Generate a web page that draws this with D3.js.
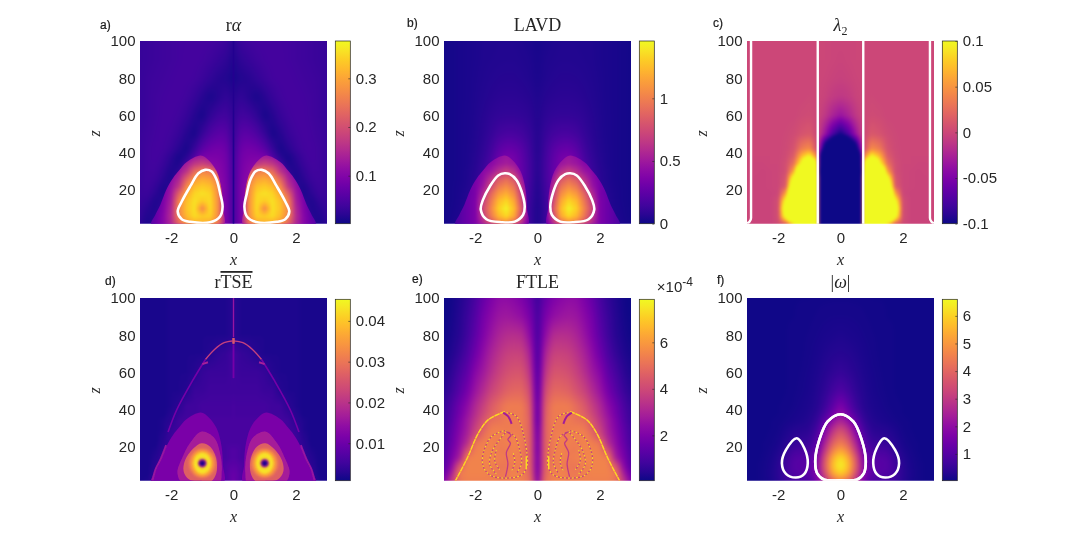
<!DOCTYPE html>
<html>
<head>
<meta charset="utf-8">
<script src="https://cdn.jsdelivr.net/npm/d3@7"></script>
<style>
  body { margin: 0; background: #fff; }
  #wrap { position: relative; width: 1080px; height: 542px; overflow: hidden; }
  canvas, svg { position: absolute; left: 0; top: 0; }
  text { font-family: "Liberation Sans", Arial, sans-serif; fill: #262626; }
  .serif { font-family: "Liberation Serif", serif; }
</style>
</head>
<body>
<div id="wrap"><canvas id="heat" width="1080" height="542"></canvas><svg id="chart" width="1080" height="542"></svg></div>
<script>
// grid of the fields, right half only (the plots are mirrored around x = 0)
const xCols = [0, .06, .25, .5, .75, 1, 1.25, 1.5, 1.75, 2, 2.25, 2.5, 2.75, 3];
const zRows = [100, 90, 80, 70, 60, 50, 42, 38, 34, 30, 26, 22, 18, 14, 10, 6, 2];
const lobeCols = [.25, .5, .75, 1, 1.25, 1.5, 1.75, 2, 2.25, 2.5, 2.75];
const lobeRows = [38, 34, 30, 26, 22, 18, 14, 10, 6, 2];

// r-alpha, in 1e-3
const alphaField = [
  [12, 24, 34, 38, 41, 42, 42, 41, 40, 38, 36, 34, 32, 30],
  [8, 16, 24, 30, 36, 40, 42, 42, 40, 38, 36, 34, 32, 30],
  [5, 10, 14, 18, 26, 34, 40, 42, 42, 40, 38, 36, 34, 30],
  [14, 20, 26, 16, 8, 18, 30, 38, 42, 42, 40, 38, 34, 30],
  [20, 30, 40, 36, 24, 6, 16, 30, 38, 42, 42, 38, 34, 30],
  [20, 40, 62, 62, 50, 30, 6, 16, 30, 38, 42, 40, 36, 32],
  [22, 48, 80, 85, 80, 62, 30, 6, 18, 32, 40, 42, 38, 32],
  [24, 52, 85, 92, 92, 90, 50, 16, 6, 22, 36, 42, 38, 32],
  [24, 55, 88, 100, 105, 110, 80, 40, 8, 16, 32, 40, 38, 32],
  [24, 56, 90, 105, 115, 125, 100, 70, 20, 10, 26, 38, 38, 32],
  [24, 58, 92, 110, 120, 130, 120, 90, 40, 8, 20, 34, 38, 32],
  [24, 60, 95, 112, 125, 135, 125, 100, 60, 20, 10, 28, 36, 32],
  [24, 60, 95, 115, 130, 135, 130, 110, 80, 35, 8, 20, 34, 32],
  [24, 60, 95, 115, 130, 135, 130, 115, 90, 50, 20, 10, 26, 30],
  [24, 60, 95, 115, 130, 135, 130, 120, 95, 65, 35, 10, 18, 28],
  [24, 60, 95, 115, 130, 135, 130, 120, 100, 75, 50, 15, 12, 26],
  [24, 60, 95, 115, 130, 135, 130, 120, 105, 85, 60, 25, 8, 22]
];
const alphaLobe = [
  [90, 100, 125, 135, 125, 100, 80, 60, 40, 30, 20],
  [90, 125, 170, 185, 170, 135, 110, 80, 60, 40, 30],
  [100, 200, 255, 265, 235, 165, 125, 100, 70, 50, 30],
  [110, 255, 295, 305, 285, 225, 145, 110, 80, 50, 30],
  [120, 270, 325, 335, 320, 270, 170, 120, 85, 55, 30],
  [125, 275, 345, 355, 345, 300, 225, 130, 90, 60, 35],
  [125, 280, 350, 335, 355, 325, 265, 140, 95, 60, 35],
  [125, 280, 350, 270, 355, 330, 270, 150, 100, 65, 40],
  [125, 275, 340, 335, 350, 320, 265, 155, 105, 70, 45],
  [120, 250, 300, 310, 305, 285, 230, 150, 105, 75, 50]
];

// LAVD, in 1e-3
const lavdField = [
  [20, 25, 35, 40, 45, 45, 45, 42, 40, 35, 30, 25, 20, 15],
  [25, 30, 40, 45, 50, 50, 48, 45, 42, 35, 30, 25, 20, 15],
  [30, 35, 45, 55, 60, 60, 58, 52, 45, 38, 30, 25, 20, 15],
  [40, 45, 60, 70, 75, 75, 72, 62, 50, 40, 30, 25, 20, 15],
  [45, 55, 80, 95, 100, 100, 95, 80, 60, 42, 32, 25, 20, 15],
  [50, 65, 110, 150, 170, 170, 150, 105, 70, 45, 32, 25, 20, 15],
  [50, 70, 135, 220, 270, 280, 230, 140, 85, 50, 35, 25, 20, 15],
  [50, 75, 145, 240, 320, 340, 280, 160, 95, 55, 35, 25, 20, 15],
  [50, 80, 150, 250, 340, 360, 320, 185, 105, 60, 35, 25, 20, 15],
  [45, 80, 150, 260, 350, 370, 340, 210, 120, 65, 40, 25, 20, 15],
  [40, 75, 150, 260, 350, 370, 350, 240, 135, 70, 40, 25, 20, 15],
  [35, 70, 140, 260, 350, 370, 350, 255, 150, 80, 45, 28, 20, 15],
  [30, 65, 130, 260, 350, 370, 350, 265, 165, 90, 50, 30, 20, 15],
  [30, 60, 120, 260, 350, 370, 350, 270, 175, 100, 55, 32, 20, 15],
  [28, 55, 110, 260, 350, 370, 350, 270, 180, 105, 60, 35, 22, 15],
  [28, 55, 110, 260, 350, 370, 350, 270, 185, 110, 65, 38, 24, 15],
  [28, 55, 110, 260, 350, 370, 350, 270, 190, 115, 70, 45, 28, 18]
];
const lavdLobe = [
  [219, 364, 437, 481, 437, 364, 321, 291, 219, 146, 146],
  [262, 364, 481, 525, 481, 408, 364, 291, 219, 175, 146],
  [291, 408, 612, 700, 612, 481, 408, 321, 262, 175, 146],
  [291, 495, 801, 903, 816, 612, 437, 335, 262, 204, 146],
  [291, 583, 932, 1049, 962, 729, 481, 350, 277, 204, 146],
  [291, 655, 1050, 1195, 1107, 874, 583, 350, 277, 219, 146],
  [291, 729, 1166, 1340, 1238, 962, 670, 364, 291, 219, 146],
  [291, 800, 1240, 1430, 1310, 1020, 730, 364, 291, 219, 146],
  [291, 729, 1166, 1340, 1224, 962, 670, 364, 291, 219, 146],
  [262, 583, 874, 1020, 962, 758, 554, 364, 291, 219, 146]
];

// lambda2, in 1e-3 (saturates outside -100..100)
const lambdaField = [
  [-1, -1, -1, 0, 0, 0, 0, 0, 0, 0, 0, 0, 0, 0],
  [-2, -2, -1, 0, 0, 0, 0, 0, 0, 0, 0, 0, 0, 0],
  [-4, -4, -3, -1, 0, 0, 0, 0, 0, 0, 0, 0, 0, 0],
  [-10, -10, -8, -3, 0, 1, 0, 0, 0, 0, 0, 0, 0, 0],
  [-35, -33, -25, -10, 0, 3, 2, 0, 0, 0, 0, 0, 0, 0],
  [-100, -95, -75, -35, 0, 12, 8, 3, 1, 0, 0, 0, 0, 0],
  [-300, -290, -190, -130, 5, 45, 35, 8, 2, 0, 0, 0, 0, 0],
  [-400, -390, -270, -300, 40, 105, 70, 15, 3, 0, 0, 0, 0, 0],
  [-500, -480, -340, -450, 90, 300, 110, 30, 5, 0, 0, -1, -1, 0],
  [-600, -580, -500, -600, 120, 350, 250, 60, 5, 0, -1, -2, -1, 0],
  [-600, -600, -600, -600, 150, 400, 300, 130, 10, 0, -1, -2, -2, 0],
  [-600, -600, -600, -600, 150, 400, 350, 200, 15, 0, -1, -2, -2, 0],
  [-600, -600, -600, -600, 150, 400, 380, 300, 60, 0, -2, -2, -2, 0],
  [-600, -600, -600, -600, 150, 400, 400, 300, 120, 5, -2, -2, -2, 0],
  [-600, -600, -600, -600, 150, 400, 400, 300, 160, 5, -2, -2, -2, 0],
  [-600, -600, -600, -600, 150, 400, 400, 300, 130, 5, -2, -2, -2, 0],
  [-600, -600, -600, -600, 150, 300, 250, 90, 20, 3, -2, -2, -2, 0]
];

// rTSE background, in 1e-3
const tseField = [
  [3, 2.5, 2, 2, 2, 2, 2, 2, 2, 2, 1.5, 1.5, 1.5, 1.5],
  [3, 2.5, 2, 2, 2, 2, 2, 2, 2, 2, 1.5, 1.5, 1.5, 1.5],
  [3, 2.5, 2, 2, 2, 2, 2, 2, 2, 2, 1.5, 1.5, 1.5, 1.5],
  [5, 5, 4, 3.5, 2.5, 2, 2, 2, 2, 2, 1.5, 1.5, 1.5, 1.5],
  [5, 5, 4.5, 4.5, 4.5, 4, 2.5, 2, 2, 2, 1.5, 1.5, 1.5, 1.5],
  [5, 5, 5, 5, 5, 4.5, 4.5, 2.5, 2, 2, 1.5, 1.5, 1.5, 1.5],
  [6, 5.5, 5.5, 5.5, 5.5, 5.5, 5, 5, 3, 2, 1.5, 1.5, 1.5, 1.5],
  [6, 5.5, 5.5, 5.5, 5.5, 5.5, 5, 5, 4, 2.5, 1.5, 1.5, 1.5, 1.5],
  [6, 6, 6, 6, 6, 6, 5.5, 5.5, 5, 3, 2, 1.5, 1.5, 1.5],
  [6, 6, 6, 6, 6, 6, 5.5, 5.5, 5, 4, 2, 1.5, 1.5, 1.5],
  [6, 6, 6, 6, 6, 6, 6, 6, 5.5, 4.5, 2.5, 1.5, 1.5, 1.5],
  [6, 6, 6, 6, 6, 6, 6, 6, 5.5, 4.5, 3, 1.5, 1.5, 1.5],
  [7, 7, 6, 6, 6, 6, 6, 6, 6, 5, 3.5, 2, 1.5, 1.5],
  [7, 7, 6, 6, 6, 6, 6, 6, 6, 5, 4, 2.5, 1.5, 1.5],
  [8, 8, 7, 6, 6, 6, 6, 6, 6, 5.5, 4.5, 3, 1.5, 1.5],
  [9, 9, 7, 6, 6, 6, 6, 6, 6, 5.5, 4.5, 3.5, 1.5, 1.5],
  [10, 9, 7, 6, 6, 6, 6, 6, 6, 5.5, 5, 4, 2, 1.5]
];

// FTLE background, in 1e-4
const ftleField = [
  [.7, 1, 1.5, 1.95, 2.2, 2.35, 2.3, 1.95, 1.5, .95, .55, .3, .12, .05],
  [.8, 1.2, 1.9, 2.4, 2.6, 2.7, 2.6, 2.25, 1.8, 1.15, .7, .35, .15, .06],
  [.9, 1.3, 2.35, 3.2, 3.3, 3.25, 3, 2.55, 2, 1.35, .8, .4, .2, .08],
  [1, 1.4, 3, 3.8, 3.85, 3.75, 3.4, 2.95, 2.35, 1.7, 1.05, .6, .3, .15],
  [1.1, 1.6, 3.5, 4.3, 4.3, 4.15, 3.8, 3.3, 2.7, 2.2, 1.4, .95, .5, .23],
  [1.2, 1.8, 4.1, 4.8, 4.8, 4.65, 4.25, 3.85, 3.2, 2.6, 1.85, 1.25, .75, .4],
  [1.3, 2, 4.5, 5.3, 5.35, 5.3, 4.9, 4.45, 3.75, 3.1, 2.3, 1.7, 1.05, .6],
  [1.3, 2, 4.6, 5.3, 5.3, 5.3, 5, 4.6, 3.95, 3.25, 2.5, 1.8, 1.15, .65],
  [1.3, 2, 4.7, 5.3, 5.3, 5.3, 5.1, 5, 4.3, 3.5, 2.7, 2, 1.25, .7],
  [1.4, 2.2, 4.7, 5.3, 5.3, 5.3, 5.4, 5.3, 4.6, 3.8, 2.8, 2.1, 1.4, .8],
  [1.5, 2.3, 4.7, 5.3, 5.5, 5.4, 5.4, 5.5, 5, 4.1, 3, 2.25, 1.5, .85],
  [1.5, 2.4, 4.7, 5.3, 5.5, 5.4, 5.3, 5.5, 5.4, 5.2, 3.3, 2.4, 1.6, .9],
  [1.5, 2.4, 4.7, 5.3, 5.5, 5.3, 5.3, 5.5, 5.5, 5.4, 4.3, 2.6, 1.8, 1],
  [1.6, 2.5, 4.7, 5.3, 5.5, 5.3, 5.4, 5.6, 5.5, 5.5, 5.4, 2.9, 2, 1.1],
  [1.6, 2.5, 4.7, 5.4, 5.3, 5.2, 5.2, 5.4, 5.5, 5.5, 5.5, 4.4, 2.3, 1.2],
  [1.6, 2.6, 4.8, 5.4, 5.5, 5.3, 5.2, 5.4, 5.5, 5.5, 5.5, 5.3, 2.9, 1.5],
  [1.7, 2.9, 5, 5.4, 5.5, 5.3, 5.4, 5.4, 5.4, 5.4, 5.4, 5.2, 3.6, 2]
];

// vorticity magnitude
const vortField = [
  [.1, .1, .1, .1, .1, .08, .08, .08, .08, .07, .07, .07, .06, .06],
  [.13, .13, .13, .12, .11, .1, .09, .08, .08, .07, .07, .07, .06, .06],
  [.2, .2, .18, .16, .13, .11, .1, .09, .08, .07, .07, .07, .06, .06],
  [.3, .3, .28, .22, .16, .12, .1, .09, .08, .07, .07, .07, .06, .06],
  [.5, .5, .42, .3, .2, .14, .11, .09, .08, .07, .07, .07, .06, .06],
  [.9, .88, .7, .42, .25, .16, .12, .1, .08, .07, .07, .07, .06, .06],
  [1.6, 1.55, 1.1, .6, .3, .2, .15, .11, .09, .08, .07, .07, .06, .06],
  [2, 1.95, 1.45, .8, .38, .22, .17, .13, .1, .08, .07, .07, .06, .06],
  [2.5, 2.45, 2, 1.2, .5, .28, .2, .16, .12, .09, .08, .07, .06, .06],
  [3.3, 3.25, 2.7, 1.6, .7, .35, .3, .25, .18, .1, .08, .07, .06, .06],
  [3.9, 3.85, 3.3, 2, .9, .45, .4, .35, .22, .12, .09, .07, .06, .06],
  [4.5, 4.4, 3.9, 2.5, 1.1, .6, .55, .5, .3, .15, .1, .08, .06, .06],
  [5.3, 5.2, 4.6, 3, 1.35, .8, .8, .75, .45, .2, .12, .08, .06, .06],
  [6.2, 6.1, 5.4, 3.6, 1.6, 1, 1, .95, .6, .27, .14, .09, .06, .06],
  [6.5, 6.4, 5.7, 3.8, 1.8, 1.1, 1.05, 1, .7, .33, .16, .1, .07, .06],
  [6, 5.9, 5.3, 3.5, 1.8, 1.1, 1, .95, .7, .35, .17, .1, .07, .06],
  [4.6, 4.5, 4, 2.8, 1.5, .9, .8, .75, .6, .33, .16, .1, .07, .06]
];

// outline of the lobe with the sharp edge, right side, as [x, z]
const lobeEdge = [[.32, 1], [.34, 10], [.38, 20], [.54, 30], [.8, 36], [1.05, 38.5], [1.5, 35], [1.77, 30], [2, 25], [2.16, 20], [2.35, 12], [2.5, 7], [2.64, 1]];

// white contours, right side
const alphaContour = [[.91, 30.8], [1.125, 29], [1.39, 21.9], [1.66, 13.8], [1.79, 8.4], [1.66, 4.3], [1.39, 2.9], [.75, 2.7], [.43, 5.8], [.35, 11], [.43, 18.3], [.54, 25.4], [.7, 29.9]];
const lavdContour = [[1.05, 29], [1.26, 27.8], [1.53, 21.9], [1.75, 14.7], [1.82, 9.4], [1.64, 4.3], [1.16, 2.7], [.73, 3], [.46, 6.7], [.41, 11.1], [.51, 19.2], [.675, 25.4], [.89, 28.5]];
const lambdaInner = [[.73, 100], [.73, 1]];
const lambdaOuter = [[2.87, 100], [2.87, 5], [2.92, 3], [3, 2]];
const vortCentre = [[0, 37.6], [.41, 33.7], [.68, 23.8], [.81, 13], [.75, 5.9], [.52, 2.4], [0, 2.1], [-.52, 2.4], [-.75, 5.9], [-.81, 13], [-.68, 23.8], [-.41, 33.7]];
const vortSide = [[1.4, 24.7], [1.75, 18.4], [1.88, 11.3], [1.75, 5.6], [1.43, 3.6], [1.16, 5.6], [1.05, 11.3], [1.16, 19.3]];
const alphaCentre = [[0, 100], [0, 2]];

// stepped bands of rTSE, right side, in 1e-3
const tseBands = [
  { value: 11.5, pts: lobeEdge },
  { value: 16.8, pts: [[.46, 0], [.38, 6], [.41, 15], [.62, 25], [1.02, 28.3], [1.4, 22], [1.65, 14], [1.8, 7], [1.72, 2], [1.55, 0]] },
  { value: 27, pts: [[.72, 1.5], [.55, 6], [.56, 14], [.74, 20], [1.02, 22], [1.3, 19], [1.55, 13], [1.6, 7], [1.42, 2.5], [1, 1.8]] }
];
const tseRings = [
  { value: 31, rx: .44, rz: 8 },
  { value: 36, rx: .36, rz: 7 },
  { value: 43, rx: .28, rz: 5.8 },
  { value: 20, rx: .14, rz: 2.4 },
  { value: 2, rx: .09, rz: 1.5 }
];
const tseRingCentre = [1, 11.3];
const tseRidges = [
  { value: 15, width: 1.2, soft: true, pts: [[0, 100], [0, 90], [0, 79]] },
  { value: 26, width: 2, soft: true, pts: [[0, 78.5], [0, 75.5]] },
  { value: 11, width: 1.5, soft: true, pts: [[0, 75], [0, 66], [0, 57]] },
  { value: 22, width: 1.4, soft: true, pts: [[0, 77], [.3, 76], [.6, 72.5], [.9, 67]] },
  { value: 11, width: 1.6, soft: true, pts: [[.9, 67], [1.3, 56], [1.82, 40], [2.1, 28]] },
  { value: 15, width: 2, soft: true, pts: [[2.16, 21], [2.35, 13], [2.5, 8], [2.6, 2]] },
  { value: 17, width: 2, soft: true, pts: [[.82, 65.5], [1, 64.5]] }
];

// fine structures of FTLE, right side, in 1e-4
const ftleRidges = [
  { value: 7.3, width: 1.3, dash: "5 1", alt: 6, pts: [[1.05, 39], [1.58, 34.6], [1.9, 27.4], [2.23, 14.9], [2.5, 6], [2.63, 2]] },
  { value: 7.2, width: 1.2, dash: "2 2", alt: 3.8, pts: [[1, 38.5], [.67, 36.4], [.46, 27.4], [.34, 16.7], [.34, 9.5], [.51, 5], [1.05, 3.3], [1.53, 5], [1.75, 10], [1.72, 18], [1.45, 26], [1, 29]] },
  { value: 7.3, width: 1.4, soft: true, pts: [[.36, 15], [.36, 8]] },
  { value: 2.8, width: 2, soft: true, pts: [[1.1, 38.5], [.94, 36.4], [.83, 32.4]] },
  { value: 7.2, width: 1.2, dash: "2 2", alt: 3.8, pts: [[1, 28.3], [.73, 25.6], [.57, 18.5], [.51, 11.3], [.67, 6]] },
  { value: 7.2, width: 1.2, dash: "2 2", alt: 3.8, pts: [[1, 28.3], [1.26, 23], [1.48, 16.7], [1.53, 10.4], [1.32, 5.6]] },
  { value: 7.2, width: 1.2, dash: "2 2", alt: 3.8, pts: [[1.32, 18.5], [1.37, 12.2], [1.21, 7.8]] },
  { value: 7.2, width: 1.2, dash: "2 2", alt: 3.8, pts: [[.78, 16.7], [.73, 11.3], [.83, 7.4]] },
  { value: 3.6, width: 1.3, soft: true, pts: [[1, 28.3], [.85, 26.5], [.95, 24], [.87, 22], [1, 17], [.95, 11], [1.03, 4]] }
];

const xTicks = [-2, 0, 2];
const zTicks = [20, 40, 60, 80, 100];
const alphaTicks = [.1, .2, .3];
const lavdTicks = [0, .5, 1];
const lambdaTicks = [-.1, -.05, 0, .05, .1];
const tseTicks = [.01, .02, .03, .04];
const ftleTicks = [2, 4, 6];
const vortTicks = [1, 2, 3, 4, 5, 6];

const panels = [
  { letter: "a)", lx: 100, ly: 29, left: 140, top: 41, cbTop: 41, title: [["r", false], ["α", true]], titleY: 31, blur: 2.6,
    rows: alphaField, unit: 1e-3, lobe: alphaLobe, domain: [.0014, .3766], ticks: alphaTicks, contours: [alphaContour],
    ridges: [{ value: 14, width: 1.4, soft: true, pts: alphaCentre }] },
  { letter: "b)", lx: 407, ly: 27, left: 444, top: 41, cbTop: 41, title: [["LAVD", false]], titleY: 31, blur: 2.6,
    rows: lavdField, unit: 1e-3, lobe: lavdLobe, domain: [0, 1.457], ticks: lavdTicks, contours: [lavdContour] },
  { letter: "c)", lx: 713, ly: 27, left: 747, top: 41, cbTop: 41, title: [["λ", true], ["2", false, true]], titleY: 31, blur: 1.6,
    rows: lambdaField, unit: 1e-3, domain: [-.1, .1], ticks: lambdaTicks, contours: [], open: [lambdaInner, lambdaOuter], openWidth: 2.4 },
  { letter: "d)", lx: 105, ly: 285, left: 140, top: 298, cbTop: 299.3, title: [["r", false], ["TSE", false, false, true]], titleY: 288, blur: 1,
    rows: tseField, unit: 1e-3, domain: [.0008, .0453], ticks: tseTicks, contours: [], bands: tseBands, rings: tseRings, ridges: tseRidges },
  { letter: "e)", lx: 412, ly: 283, left: 444, top: 298, cbTop: 299.3, title: [["FTLE", false]], titleY: 288, blur: 2.2,
    rows: ftleField, unit: 1, domain: [.05, 7.85], ticks: ftleTicks, contours: [], ridges: ftleRidges, power: true },
  { letter: "f)", lx: 717, ly: 284, left: 747, top: 298, cbTop: 299.3, title: [["|", false], ["ω", true], ["|", false]], titleY: 288, blur: 2.4,
    rows: vortField, unit: 1, domain: [.03, 6.6], ticks: vortTicks, contours: [vortCentre, vortSide] }
];

const plotW = 187, plotH = 182.7, cbGap = 8.3, cbW = 15, pad = 8;
const svg = d3.select("#chart");
const ctx = document.getElementById("heat").getContext("2d");

// rows come from the top of the plot, the lookup wants z rising
function sampler(cols, rowZ, rows, unit) {
  const zs = rowZ.slice().reverse();
  const vals = rows.slice().reverse();
  return (x, z) => {
    const ax = Math.abs(x);
    const i = Math.max(1, Math.min(cols.length - 1, d3.bisectLeft(cols, ax)));
    const j = Math.max(1, Math.min(zs.length - 1, d3.bisectLeft(zs, z)));
    const tx = Math.max(0, Math.min(1, (ax - cols[i - 1]) / (cols[i] - cols[i - 1])));
    const tz = Math.max(0, Math.min(1, (z - zs[j - 1]) / (zs[j] - zs[j - 1])));
    const low = vals[j - 1][i - 1] * (1 - tx) + vals[j - 1][i] * tx;
    const high = vals[j][i - 1] * (1 - tx) + vals[j][i] * tx;
    return (low * (1 - tz) + high * tz) * unit;
  };
}

// painted a bit larger than the plot so that the blur has no edge to fade into
function paintField(sample, xScale, zScale, colour, left, top) {
  const off = document.createElement("canvas");
  const w = Math.round(plotW) + 2 * pad, h = Math.round(plotH) + 2 * pad;
  off.width = w;
  off.height = h;
  const octx = off.getContext("2d");
  const img = octx.createImageData(w, h);
  for (let py = 0; py < h; py++) {
    for (let px = 0; px < w; px++) {
      const c = d3.rgb(colour(sample(xScale.invert(left - pad + px + .5), zScale.invert(top - pad + py + .5))));
      const k = (py * w + px) * 4;
      img.data[k] = c.r;
      img.data[k + 1] = c.g;
      img.data[k + 2] = c.b;
      img.data[k + 3] = 255;
    }
  }
  octx.putImageData(img, 0, 0);
  return off;
}

const defs = svg.append("defs");
// user space region, a vertical line has an empty bounding box
[["soft", .6], ["softer", 1]].forEach(f => {
  defs.append("filter").attr("id", f[0]).attr("filterUnits", "userSpaceOnUse")
    .attr("x", 0).attr("y", 0).attr("width", 1080).attr("height", 542)
    .append("feGaussianBlur").attr("stdDeviation", f[1]);
});

panels.forEach((p, n) => {
  const xScale = d3.scaleLinear().domain([-3, 3]).range([p.left, p.left + plotW]);
  const zScale = d3.scaleLinear().domain([1.9, 100]).range([p.top + plotH, p.top]);
  const colour = d3.scaleSequential(d3.interpolatePlasma).domain(p.domain).clamp(true);
  const line = d3.line().x(d => xScale(d[0])).y(d => zScale(d[1]));

  // heat map on the canvas below the svg
  const base = paintField(sampler(xCols, zRows, p.rows, p.unit), xScale, zScale, colour, p.left, p.top);
  ctx.save();
  ctx.beginPath();
  ctx.rect(p.left, p.top, plotW, plotH);
  ctx.clip();
  ctx.filter = `blur(${p.blur}px)`;
  ctx.drawImage(base, p.left - pad, p.top - pad);
  ctx.restore();
  if (p.lobe) {
    const layer = paintField(sampler(lobeCols, lobeRows, p.lobe, p.unit), xScale, zScale, colour, p.left, p.top);
    [1, -1].forEach(side => {
      const shape = d3.line().x(d => xScale(side * d[0])).y(d => zScale(d[1])).curve(d3.curveCatmullRomClosed)(lobeEdge);
      ctx.save();
      ctx.beginPath();
      ctx.rect(p.left, p.top, plotW, plotH);
      ctx.clip();
      ctx.clip(new Path2D(shape));
      ctx.filter = "blur(1.2px)";
      ctx.drawImage(layer, p.left - pad, p.top - pad);
      ctx.restore();
    });
  }

  const clipId = "clip" + n;
  defs.append("clipPath").attr("id", clipId).append("rect")
    .attr("x", p.left).attr("y", p.top).attr("width", plotW).attr("height", plotH);
  const plot = svg.append("g").attr("clip-path", `url(#${clipId})`);

  [1, -1].forEach(side => {
    const mirror = d => [side * d[0], d[1]];

    (p.bands || []).forEach(b => {
      plot.append("path")
        .attr("d", line.curve(d3.curveCatmullRomClosed)(b.pts.map(mirror)))
        .attr("fill", colour(b.value * p.unit))
        .attr("filter", "url(#soft)");
    });
    (p.rings || []).forEach(r => {
      const cx = side * tseRingCentre[0], cz = tseRingCentre[1];
      plot.append("ellipse")
        .attr("cx", xScale(cx)).attr("cy", zScale(cz))
        .attr("rx", xScale(r.rx) - xScale(0)).attr("ry", zScale(0) - zScale(r.rz))
        .attr("fill", colour(r.value * p.unit))
        .attr("filter", "url(#softer)");
    });
    (p.ridges || []).forEach(r => {
      const d = line.curve(d3.curveCatmullRom)(r.pts.map(mirror));
      if (r.alt) {
        plot.append("path").attr("d", d).attr("fill", "none")
          .attr("stroke", colour(r.alt * p.unit)).attr("stroke-width", r.width);
      }
      plot.append("path").attr("d", d).attr("fill", "none")
        .attr("stroke", colour(r.value * p.unit))
        .attr("stroke-width", r.width)
        .attr("stroke-dasharray", r.dash || null)
        .attr("filter", r.soft ? "url(#soft)" : null);
    });
    p.contours.forEach(c => {
      plot.append("path")
        .attr("d", line.curve(d3.curveCatmullRomClosed)(c.map(mirror)))
        .attr("fill", "none").attr("stroke", "#fff").attr("stroke-width", 2.6);
    });
    (p.open || []).forEach(c => {
      plot.append("path")
        .attr("d", line.curve(d3.curveMonotoneY)(c.map(mirror)))
        .attr("fill", "none").attr("stroke", "#fff").attr("stroke-width", p.openWidth);
    });
  });

  // axes, only the labels show in the reference
  const xAxis = svg.append("g").attr("transform", `translate(0,${p.top + plotH})`)
    .call(d3.axisBottom(xScale).tickValues(xTicks).tickSize(0).tickPadding(9).tickFormat(d => String(d)));
  const zAxis = svg.append("g").attr("transform", `translate(${p.left},0)`)
    .call(d3.axisLeft(zScale).tickValues(zTicks).tickSize(0).tickPadding(4.5));
  [xAxis, zAxis].forEach(a => {
    a.select(".domain").remove();
    a.selectAll("text").style("font-size", "15px").style("font-family", '"Liberation Sans"').attr("fill", "#262626");
  });

  svg.append("text").attr("class", "serif")
    .attr("x", p.left + plotW / 2).attr("y", p.top + plotH + 41)
    .attr("text-anchor", "middle").style("font-size", "16px").style("font-style", "italic").text("x");
  svg.append("text").attr("class", "serif")
    .attr("transform", `translate(${p.left - 40},${p.top + plotH / 2 + 1}) rotate(-90)`)
    .attr("text-anchor", "middle").style("font-size", "16px").style("font-style", "italic").text("z");

  const title = svg.append("text").attr("class", "serif")
    .attr("x", p.left + plotW / 2).attr("y", p.titleY)
    .attr("text-anchor", "middle").style("font-size", "18px");
  p.title.forEach(t => {
    const span = title.append("tspan").text(t[0]);
    if (t[1]) span.style("font-style", "italic");
    if (t[2]) span.attr("dy", 4).style("font-size", "12px");
    if (t[3]) span.style("text-decoration", "overline");
  });

  svg.append("text").attr("x", p.lx).attr("y", p.ly)
    .style("font-size", "12px").attr("stroke", "#000").attr("stroke-width", .2).text(p.letter);

  // colour bar
  const cbX = p.left + plotW + cbGap;
  const cbBottom = p.top + plotH;
  const gradId = "grad" + n;
  const grad = defs.append("linearGradient").attr("id", gradId)
    .attr("x1", 0).attr("y1", 1).attr("x2", 0).attr("y2", 0);
  d3.range(0, 1.001, .05).forEach(t => {
    grad.append("stop").attr("offset", t).attr("stop-color", d3.interpolatePlasma(t));
  });
  svg.append("rect").attr("x", cbX).attr("y", p.cbTop).attr("width", cbW).attr("height", cbBottom - p.cbTop)
    .attr("fill", `url(#${gradId})`).attr("stroke", "#262626").attr("stroke-width", .7);

  const cbScale = d3.scaleLinear().domain(p.domain).range([cbBottom, p.cbTop]);
  const cbAxis = svg.append("g").attr("transform", `translate(${cbX + cbW},0)`)
    .call(d3.axisRight(cbScale).tickValues(p.ticks).tickSizeInner(-2).tickSizeOuter(0).tickPadding(5.5).tickFormat(d => String(d)));
  cbAxis.select(".domain").remove();
  cbAxis.selectAll("line").attr("stroke", "#262626").attr("stroke-width", .6);
  cbAxis.selectAll("text").style("font-size", "15px").style("font-family", '"Liberation Sans"').attr("fill", "#262626");

  if (p.power) {
    const mult = svg.append("text").attr("x", cbX + 17.5).attr("y", 292).style("font-size", "15px");
    mult.append("tspan").text("×10");
    mult.append("tspan").attr("dy", -6).style("font-size", "12px").text("-4");
  }
});
</script>
</body>
</html>
